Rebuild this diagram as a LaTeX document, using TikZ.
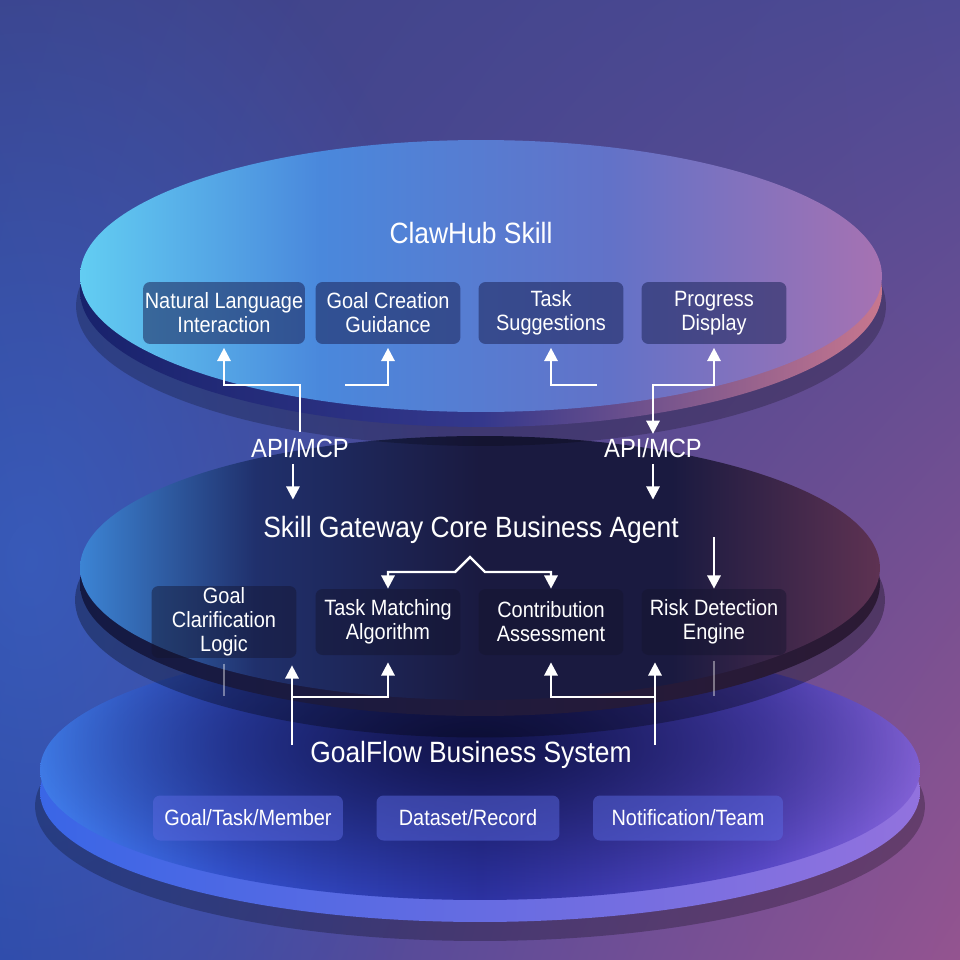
\documentclass[tikz,border=0pt]{standalone}
\usepackage{fontspec}
\setmainfont{Liberation Sans}[FakeStretch=0.9]
\usetikzlibrary{positioning,calc,arrows.meta,shadings,fadings}

\definecolor{bgUL}{HTML}{3C4288}
\definecolor{bgUR}{HTML}{4E4A94}
\definecolor{bgLL}{HTML}{2C44A0}
\definecolor{bgLR}{HTML}{945490}
\definecolor{glowL}{HTML}{3A64C8}
\definecolor{topA}{HTML}{62CDF2}
\definecolor{topB}{HTML}{4A88DC}
\definecolor{topC}{HTML}{6272C8}
\definecolor{topD}{HTML}{A672B2}
\definecolor{rimA}{HTML}{18226C}
\definecolor{rimB}{HTML}{34388C}
\definecolor{rimC}{HTML}{C8778E}
\definecolor{midA}{HTML}{3C84D4}
\definecolor{midB}{HTML}{20306C}
\definecolor{midC}{HTML}{1A1A40}
\definecolor{midD}{HTML}{5E3252}
\definecolor{mrimA}{HTML}{141A44}
\definecolor{mrimB}{HTML}{2C1A34}
\definecolor{lowA}{HTML}{4282F2}
\definecolor{lowB}{HTML}{3452D0}
\definecolor{lowC}{HTML}{2E34A8}
\definecolor{lowD}{HTML}{5A4ACA}
\definecolor{lowE}{HTML}{8664DA}
\definecolor{lowDark}{HTML}{12144A}
\definecolor{lrimA}{HTML}{3A66E6}
\definecolor{lrimB}{HTML}{9272DE}
\definecolor{boxTop}{HTML}{1C2458}
\definecolor{boxMid}{HTML}{14142E}
\definecolor{boxLow}{HTML}{5A68E0}

\pgfdeclarehorizontalshading{topsurf}{100bp}{color(0bp)=(topA); color(25bp)=(topA); color(40bp)=(topB); color(58bp)=(topC); color(75bp)=(topD); color(100bp)=(topD)}
\pgfdeclarehorizontalshading{toprim}{100bp}{color(0bp)=(rimA); color(25bp)=(rimA); color(50bp)=(rimB); color(75bp)=(rimC); color(100bp)=(rimC)}
\pgfdeclarehorizontalshading{midsurf}{100bp}{color(0bp)=(midA); color(25bp)=(midA); color(36bp)=(midB); color(50bp)=(midC); color(62bp)=(midC); color(75bp)=(midD); color(100bp)=(midD)}
\pgfdeclarehorizontalshading{midrim}{100bp}{color(0bp)=(mrimA); color(25bp)=(mrimA); color(75bp)=(mrimB); color(100bp)=(mrimB)}
\pgfdeclarehorizontalshading{lowsurf}{100bp}{color(0bp)=(lowA); color(25bp)=(lowA); color(36bp)=(lowB); color(50bp)=(lowC); color(66bp)=(lowD); color(75bp)=(lowE); color(100bp)=(lowE)}
\pgfdeclarehorizontalshading{lowrim}{100bp}{color(0bp)=(lrimA); color(25bp)=(lrimA); color(75bp)=(lrimB); color(100bp)=(lrimB)}
\tikzfading[name=darkcore, inner color=transparent!0, outer color=transparent!100]

\begin{document}
\begin{tikzpicture}[x=0.02cm, y=-0.02cm,
	box/.style={rectangle, rounded corners=4pt, minimum width=2.9cm, minimum height=1.24cm, align=center, text=white, inner sep=1pt, font=\fontsize{12.6}{13.6}\selectfont},
	topbox/.style={box, fill=boxTop, fill opacity=0.55, text opacity=1},
	midbox/.style={box, fill=boxMid, fill opacity=0.45, text opacity=1, minimum height=1.32cm},
	lowbox/.style={box, fill=boxLow, fill opacity=0.5, text opacity=1, minimum width=3.8cm, minimum height=0.9cm},
	layer/.style={text=white, font=\fontsize{16.7}{19}\selectfont},
	api/.style={text=white, font=\fontsize{15}{17}\selectfont},
	flow/.style={draw=white, line width=1.4pt, >={Triangle[length=7.5pt,width=7.5pt]}},
	faint/.style={draw=white, draw opacity=0.4, line width=0.8pt}
	]
	
	\useasboundingbox (0,0) rectangle (960,960);
	\shade[upper left=bgUL, upper right=bgUR, lower left=bgLL, lower right=bgLR] (0,0) rectangle (960,960);
	\fill[glowL, opacity=0.7, path fading=darkcore] (30,560) ellipse [x radius=9cm, y radius=14cm];
	
	% bottom disk
	\fill[black, opacity=0.25] (480,806) ellipse [x radius=8.9cm, y radius=2.7cm];
	\path[shading=lowrim] (480,792) ellipse [x radius=8.8cm, y radius=2.6cm];
	\path[shading=lowsurf] (480,770) ellipse [x radius=8.8cm, y radius=2.6cm];
	\begin{scope}
		\clip (480,770) ellipse [x radius=8.8cm, y radius=2.6cm];
		\fill[lowDark, path fading=darkcore] (475,745) ellipse [x radius=9.5cm, y radius=3.3cm];
	\end{scope}
	
	% middle disk
	\fill[black, opacity=0.3] (480,600) ellipse [x radius=8.1cm, y radius=2.75cm];
	\path[shading=midrim] (480,584) ellipse [x radius=8cm, y radius=2.64cm];
	\path[shading=midsurf] (480,568) ellipse [x radius=8cm, y radius=2.64cm];
	
	% top disk
	\fill[black, opacity=0.22] (481,306) ellipse [x radius=8.1cm, y radius=2.8cm];
	\path[shading=toprim] (481,291) ellipse [x radius=8.02cm, y radius=2.72cm];
	\path[shading=topsurf] (481,276) ellipse [x radius=8.02cm, y radius=2.72cm];
	
	\node[layer] (skill) at (471,233) {ClawHub Skill};
	\node[topbox] (nli) at (224,313) {Natural Language\\Interaction};
	\node[topbox] (gcg) at (388,313) {Goal Creation\\Guidance};
	\node[topbox] (ts) at (551,313) {Task\\Suggestions};
	\node[topbox] (pd) at (714,313) {Progress\\Display};
	
	\node[api] (api1) at (300,448) {API/MCP};
	\node[api] (api2) at (653,448) {API/MCP};
	
	\node[layer] (gw) at (471,530) {Skill Gateway Core Business Agent};
	\node[midbox] (gcl) at (224,622) {Goal\\Clarification\\Logic};
	\node[midbox] (tma) at (388,622) {Task Matching\\Algorithm};
	\node[midbox] (ca) at (551,622) {Contribution\\Assessment};
	\node[midbox] (rde) at (714,622) {Risk Detection\\Engine};
	
	\node[layer] (gfs) at (471,755) {GoalFlow Business System};
	\node[lowbox] (gtm) at (248,818) {Goal/Task/Member};
	\node[lowbox, minimum width=3.66cm] (dr) at (468,818) {Dataset/Record};
	\node[lowbox] (nt) at (688,818) {Notification/Team};
	
	\coordinate (j1) at (300,385);
	\coordinate (j2) at (345,385);
	\coordinate (j3) at (597,385);
	\coordinate (j4) at (653,385);
	\coordinate (pkl) at (455,572);
	\coordinate (pk) at (470,557);
	\coordinate (pkr) at (485,572);
	\coordinate (r1) at (714,537);
	\coordinate (b1) at (292,745);
	\coordinate (b1j) at (292,697);
	\coordinate (b2) at (655,745);
	\coordinate (b2j) at (655,697);
	\coordinate (f1) at (224,696);
	\coordinate (f2) at (714,696);
	
	\draw[flow, ->] (api1.north) -- (j1) -| ([yshift=-2pt]nli.south);
	\draw[flow, ->] (j2) -| ([yshift=-2pt]gcg.south);
	\draw[flow, ->] (j3) -| ([yshift=-2pt]ts.south);
	\draw[flow, <->] ([yshift=-2pt]pd.south) |- (j4) -- ([yshift=-1pt]api2.north);
	\draw[flow, ->] ([xshift=-4pt]api1.south) -- ([xshift=-4pt, yshift=6pt]api1.south |- gw.north);
	\draw[flow, ->] (api2.south) -- ([yshift=6pt]api2.south |- gw.north);
	
	\draw[flow, <->] (tma.north) |- (pkl) -- (pk) -- (pkr) -| (ca.north);
	\draw[flow, ->] (r1) -- (rde.north);
	
	\draw[flow, ->] (b1) -- ([yshift=-4pt]b1 |- gcl.south);
	\draw[flow, ->] (b1j) -| ([yshift=-4pt]tma.south);
	\draw[flow, ->] (b2) -- ([yshift=-4pt]b2 |- rde.south);
	\draw[flow, ->] (b2j) -| ([yshift=-4pt]ca.south);
	\draw[faint] ([yshift=-3pt]gcl.south) -- (f1);
	\draw[faint] ([yshift=-3pt]rde.south) -- (f2);
	
\end{tikzpicture}
\end{document}
